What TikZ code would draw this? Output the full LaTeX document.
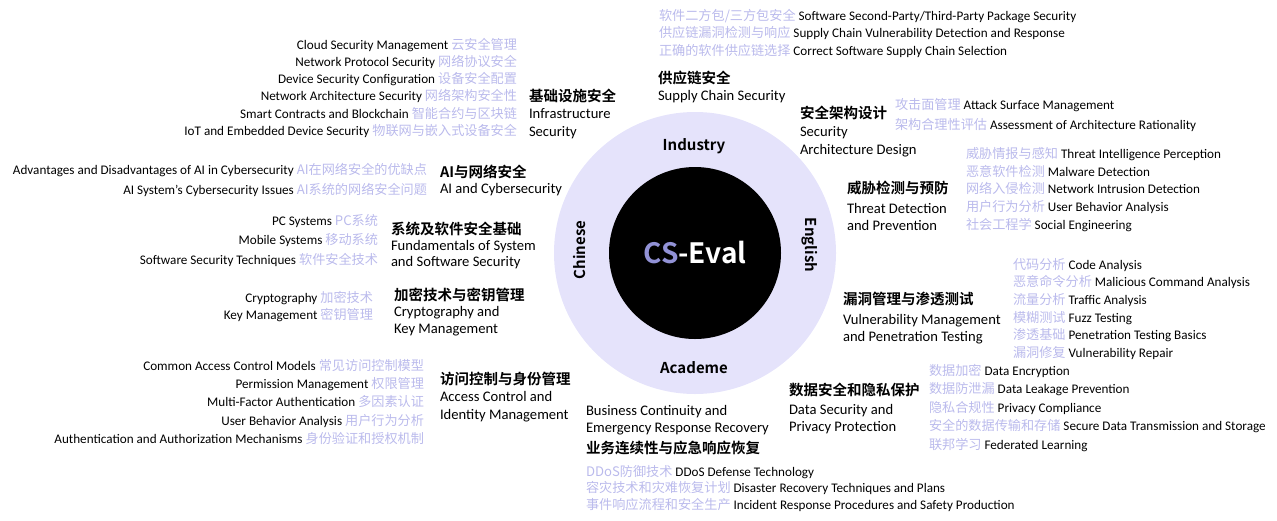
\documentclass[tikz,border=0pt]{standalone}
\usepackage{fontspec}
\setmainfont{Carlito}
\newfontfamily\cjk{Noto Sans CJK SC}[BoldFont={Noto Sans CJK SC Bold}]
\usetikzlibrary{positioning}
\definecolor{ringfill}{RGB}{229,227,251}
\definecolor{cnitem}{RGB}{186,186,236}
\definecolor{cscol}{RGB}{146,146,214}
\newcommand{\cn}[1]{{\cjk\color{cnitem}#1}}
\tikzset{
  node distance=5pt,
  every node/.style={outer sep=0mm,inner sep=0mm}
}
\tikzset{header/.style={
    font=\cjk\bfseries\fontsize{14.5}{17}\selectfont,
    text height=13pt,
    text depth=1pt
  },
  subhead/.style={
    font=\fontsize{14.6}{17}\selectfont,
    text height=12pt,
    text depth=1pt
  },
  field/.style={
    font=\fontsize{13.15}{15}\selectfont,
    text height=11.5pt,
    text depth=1pt
  },
  ringlabel/.style={
    font=\cjk\bfseries\fontsize{15}{17}\selectfont
  }}

\begin{document}
\begin{tikzpicture}[x=1pt,y=-1pt]
  \useasboundingbox (0,0) rectangle (1277,520);

  \node (Ring) [circle,fill=ringfill,minimum size=282pt] at (695,253) {};
  \node (Core) [circle,fill=black,minimum size=172pt,text=white,
    font=\cjk\bfseries\fontsize{28}{30}\selectfont] at (695,253) {\textcolor{cscol}{CS}-Eval};
  \node (Industry) [ringlabel] at (694,146) {Industry};
  \node (Academe) [ringlabel] at (694,368) {Academe};
  \node (Chinese) [ringlabel,rotate=90] at (580,250) {Chinese};
  \node (English) [ringlabel,rotate=-90] at (810,245) {English};

  % infrastructure
  \node (Infra_cn) [header,anchor=west] at (529,95) {基础设施安全};
  \node (Infra_en1) [subhead,below=4pt of Infra_cn.south west,anchor=north west] {Infrastructure};
  \node (Infra_en2) [subhead,below=5pt of Infra_en1.south west,anchor=north west] {Security};
  \node (Infra_cloud) [field,anchor=east] at (517,44) {Cloud Security Management \cn{云安全管理}};
  \node (Infra_proto) [field,below=4.7pt of Infra_cloud.south east,anchor=north east] {Network Protocol Security \cn{网络协议安全}};
  \node (Infra_device) [field,below=4.7pt of Infra_proto.south east,anchor=north east] {Device Security Configuration \cn{设备安全配置}};
  \node (Infra_arch) [field,below=4.7pt of Infra_device.south east,anchor=north east] {Network Architecture Security \cn{网络架构安全性}};
  \node (Infra_chain) [field,below=4.7pt of Infra_arch.south east,anchor=north east] {Smart Contracts and Blockchain \cn{智能合约与区块链}};
  \node (Infra_iot) [field,below=4.7pt of Infra_chain.south east,anchor=north east] {IoT and Embedded Device Security \cn{物联网与嵌入式设备安全}};

  % supply chain
  \node (Supply_cn) [header,anchor=west] at (658,77) {供应链安全};
  \node (Supply_en) [subhead,below=4pt of Supply_cn.south west,anchor=north west] {Supply Chain Security};
  \node (Supply_pkg) [field,anchor=west] at (659,15) {\cn{软件二方包/三方包安全} Software Second-Party/Third-Party Package Security};
  \node (Supply_vuln) [field,below=of Supply_pkg.south west,anchor=north west] {\cn{供应链漏洞检测与响应} Supply Chain Vulnerability Detection and Response};
  \node (Supply_sel) [field,below=of Supply_vuln.south west,anchor=north west] {\cn{正确的软件供应链选择} Correct Software Supply Chain Selection};

  % security architecture
  \node (Arch_cn) [header,anchor=west] at (800,112) {安全架构设计};
  \node (Arch_en1) [subhead,below=5pt of Arch_cn.south west,anchor=north west] {Security};
  \node (Arch_en2) [subhead,below=5pt of Arch_en1.south west,anchor=north west] {Architecture Design};
  \node (Arch_attack) [field,anchor=west] at (895,104) {\cn{攻击面管理} Attack Surface Management};
  \node (Arch_assess) [field,below=7.5pt of Arch_attack.south west,anchor=north west] {\cn{架构合理性评估} Assessment of Architecture Rationality};

  % threat detection
  \node (Threat_cn) [header,anchor=west] at (847,187) {威胁检测与预防};
  \node (Threat_en1) [subhead,below=7.5pt of Threat_cn.south west,anchor=north west] {Threat Detection};
  \node (Threat_en2) [subhead,below=4pt of Threat_en1.south west,anchor=north west] {and Prevention};
  \node (Threat_intel) [field,anchor=west] at (966,153) {\cn{威胁情报与感知} Threat Intelligence Perception};
  \node (Threat_malware) [field,below=5.25pt of Threat_intel.south west,anchor=north west] {\cn{恶意软件检测} Malware Detection};
  \node (Threat_intrusion) [field,below=5.25pt of Threat_malware.south west,anchor=north west] {\cn{网络入侵检测} Network Intrusion Detection};
  \node (Threat_behavior) [field,below=5.25pt of Threat_intrusion.south west,anchor=north west] {\cn{用户行为分析} User Behavior Analysis};
  \node (Threat_social) [field,below=5.25pt of Threat_behavior.south west,anchor=north west] {\cn{社会工程学} Social Engineering};

  % vulnerability management
  \node (Vuln_cn) [header,anchor=west] at (843,298) {漏洞管理与渗透测试};
  \node (Vuln_en1) [subhead,below=7.5pt of Vuln_cn.south west,anchor=north west] {Vulnerability Management};
  \node (Vuln_en2) [subhead,below=4pt of Vuln_en1.south west,anchor=north west] {and Penetration Testing};
  \node (Vuln_code) [field,anchor=west] at (1013,264) {\cn{代码分析} Code Analysis};
  \node (Vuln_cmd) [field,below=5.1pt of Vuln_code.south west,anchor=north west] {\cn{恶意命令分析} Malicious Command Analysis};
  \node (Vuln_traffic) [field,below=5.1pt of Vuln_cmd.south west,anchor=north west] {\cn{流量分析} Traffic Analysis};
  \node (Vuln_fuzz) [field,below=5.1pt of Vuln_traffic.south west,anchor=north west] {\cn{模糊测试} Fuzz Testing};
  \node (Vuln_pentest) [field,below=5.1pt of Vuln_fuzz.south west,anchor=north west] {\cn{渗透基础} Penetration Testing Basics};
  \node (Vuln_repair) [field,below=5.1pt of Vuln_pentest.south west,anchor=north west] {\cn{漏洞修复} Vulnerability Repair};

  % data security
  \node (Data_cn) [header,anchor=west] at (789,389) {数据安全和隐私保护};
  \node (Data_en1) [subhead,below=6.5pt of Data_cn.south west,anchor=north west] {Data Security and};
  \node (Data_en2) [subhead,below=4pt of Data_en1.south west,anchor=north west] {Privacy Protection};
  \node (Data_enc) [field,anchor=west] at (929,370) {\cn{数据加密} Data Encryption};
  \node (Data_leak) [field,below=6pt of Data_enc.south west,anchor=north west] {\cn{数据防泄漏} Data Leakage Prevention};
  \node (Data_privacy) [field,below=6pt of Data_leak.south west,anchor=north west] {\cn{隐私合规性} Privacy Compliance};
  \node (Data_storage) [field,below=6pt of Data_privacy.south west,anchor=north west] {\cn{安全的数据传输和存储} Secure Data Transmission and Storage};
  \node (Data_fed) [field,below=6pt of Data_storage.south west,anchor=north west] {\cn{联邦学习} Federated Learning};

  % business continuity
  \node (Biz_en1) [subhead,anchor=west] at (586,410) {Business Continuity and};
  \node (Biz_en2) [subhead,below=4pt of Biz_en1.south west,anchor=north west] {Emergency Response Recovery};
  \node (Biz_cn) [header,below=6.5pt of Biz_en2.south west,anchor=north west] {业务连续性与应急响应恢复};
  \node (Biz_ddos) [field,anchor=west] at (586,471) {\cn{DDoS防御技术} DDoS Defense Technology};
  \node (Biz_disaster) [field,below=4pt of Biz_ddos.south west,anchor=north west] {\cn{容灾技术和灾难恢复计划} Disaster Recovery Techniques and Plans};
  \node (Biz_incident) [field,below=4pt of Biz_disaster.south west,anchor=north west] {\cn{事件响应流程和安全生产} Incident Response Procedures and Safety Production};

  % access control
  \node (Access_cn) [header,anchor=west] at (440,378) {访问控制与身份管理};
  \node (Access_en1) [subhead,below=4.5pt of Access_cn.south west,anchor=north west] {Access Control and};
  \node (Access_en2) [subhead,below=5pt of Access_en1.south west,anchor=north west] {Identity Management};
  \node (Access_models) [field,anchor=east] at (424,365) {Common Access Control Models \cn{常见访问控制模型}};
  \node (Access_perm) [field,below=5.75pt of Access_models.south east,anchor=north east] {Permission Management \cn{权限管理}};
  \node (Access_mfa) [field,below=5.75pt of Access_perm.south east,anchor=north east] {Multi-Factor Authentication \cn{多因素认证}};
  \node (Access_behavior) [field,below=5.75pt of Access_mfa.south east,anchor=north east] {User Behavior Analysis \cn{用户行为分析}};
  \node (Access_auth) [field,below=5.75pt of Access_behavior.south east,anchor=north east] {Authentication and Authorization Mechanisms \cn{身份验证和授权机制}};

  % cryptography
  \node (Crypto_cn) [header,anchor=west] at (394,294) {加密技术与密钥管理};
  \node (Crypto_en1) [subhead,below=3.5pt of Crypto_cn.south west,anchor=north west] {Cryptography and};
  \node (Crypto_en2) [subhead,below=4pt of Crypto_en1.south west,anchor=north west] {Key Management};
  \node (Crypto_crypt) [field,anchor=east] at (373,297) {Cryptography \cn{加密技术}};
  \node (Crypto_keys) [field,below=4.5pt of Crypto_crypt.south east,anchor=north east] {Key Management \cn{密钥管理}};

  % system and software fundamentals
  \node (Fund_cn) [header,anchor=west] at (391,228) {系统及软件安全基础};
  \node (Fund_en1) [subhead,below=3pt of Fund_cn.south west,anchor=north west] {Fundamentals of System};
  \node (Fund_en2) [subhead,below=3.5pt of Fund_en1.south west,anchor=north west] {and Software Security};
  \node (Fund_pc) [field,anchor=east] at (378,220) {PC Systems \cn{PC系统}};
  \node (Fund_mobile) [field,below=7pt of Fund_pc.south east,anchor=north east] {Mobile Systems \cn{移动系统}};
  \node (Fund_soft) [field,below=7pt of Fund_mobile.south east,anchor=north east] {Software Security Techniques \cn{软件安全技术}};

  % ai
  \node (AI_cn) [header,anchor=west] at (440,171) {AI与网络安全};
  \node (AI_en) [subhead,below=3.5pt of AI_cn.south west,anchor=north west] {AI and Cybersecurity};
  \node (AI_pros) [field,anchor=east] at (427,169) {Advantages and Disadvantages of AI in Cybersecurity \cn{AI在网络安全的优缺点}};
  \node (AI_issues) [field,below=7.5pt of AI_pros.south east,anchor=north east] {AI System's Cybersecurity Issues \cn{AI系统的网络安全问题}};
\end{tikzpicture}
\end{document}
